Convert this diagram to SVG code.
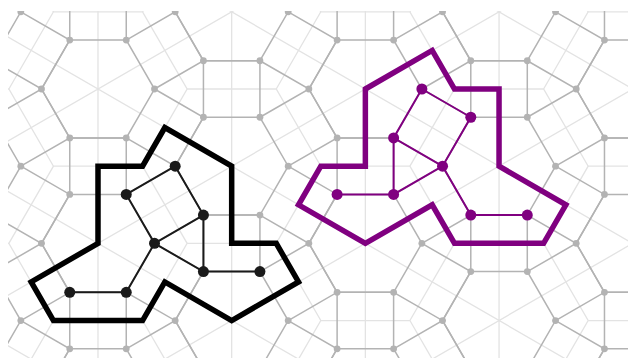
<svg xmlns="http://www.w3.org/2000/svg" width="628" height="358" viewBox="0 0 628 358">
<style>
.lt{fill:none;stroke:#e3e3e3;stroke-width:1.3}
.dk{fill:none;stroke:#b3b3b3;stroke-width:1.5}
.gd{fill:#b3b3b3}
.bb{fill:none;stroke:#000;stroke-width:5.5;stroke-linejoin:miter}
.be{fill:none;stroke:#1a1a1a;stroke-width:2}
.bn{fill:#1a1a1a}
.pb{fill:none;stroke:#800080;stroke-width:5.5;stroke-linejoin:miter}
.pe{fill:none;stroke:#800080;stroke-width:2}
.pn{fill:#800080}
</style>
<defs>
<clipPath id="clip"><rect x="8" y="11" width="640" height="360"/></clipPath>
<path id="hc" class="lt" d="M-44.56,-77.18H44.56L89.12,0L44.56,77.18"/>
<path id="cell" class="dk" d="M-28.25,-48.93H28.25L56.5,0L28.25,48.93H-28.25L-56.5,0Z M-28.25,-48.93V-105.43H28.25V-48.93 M28.25,-48.93L77.18,-77.18L105.43,-28.25L56.5,0 M56.5,0L105.43,28.25L77.18,77.18L28.25,48.93"/>
<g id="dots" class="gd">
<circle cx="-28.25" cy="-48.93" r="3.4"/><circle cx="28.25" cy="-48.93" r="3.4"/><circle cx="56.5" cy="0" r="3.4"/>
<circle cx="28.25" cy="48.93" r="3.4"/><circle cx="-28.25" cy="48.93" r="3.4"/><circle cx="-56.5" cy="0" r="3.4"/>
</g>
</defs>
<g id="tiling" clip-path="url(#clip)">
<g id="dual">
<path class="lt" d="M98,0V370M231.68,0V370M365.36,0V370M499.04,0V370
M0,-276.3L640,93.2M0,-121.94L640,247.56M0,32.42L640,401.92M0,186.78L640,556.28M0,341.14L640,710.64
M0,145.58L640,-223.92M0,299.94L640,-69.56M0,454.3L640,84.8M0,608.66L640,239.16"/>
<use href="#hc" x="-35.68" y="11.82"/><use href="#hc" x="-35.68" y="166.18"/><use href="#hc" x="-35.68" y="320.54"/>
<use href="#hc" x="98" y="-65.36"/><use href="#hc" x="98" y="89"/><use href="#hc" x="98" y="243.36"/><use href="#hc" x="98" y="397.72"/>
<use href="#hc" x="231.68" y="11.82"/><use href="#hc" x="231.68" y="166.18"/><use href="#hc" x="231.68" y="320.54"/>
<use href="#hc" x="365.36" y="-65.36"/><use href="#hc" x="365.36" y="89"/><use href="#hc" x="365.36" y="243.36"/><use href="#hc" x="365.36" y="397.72"/>
<use href="#hc" x="499.04" y="11.82"/><use href="#hc" x="499.04" y="166.18"/><use href="#hc" x="499.04" y="320.54"/>
<use href="#hc" x="632.72" y="-65.36"/><use href="#hc" x="632.72" y="89"/><use href="#hc" x="632.72" y="243.36"/><use href="#hc" x="632.72" y="397.72"/>
</g>
<g id="edges">
<use href="#cell" x="-35.68" y="11.82"/><use href="#cell" x="-35.68" y="166.18"/><use href="#cell" x="-35.68" y="320.54"/>
<use href="#cell" x="98" y="-65.36"/><use href="#cell" x="98" y="89"/><use href="#cell" x="98" y="243.36"/><use href="#cell" x="98" y="397.72"/>
<use href="#cell" x="231.68" y="11.82"/><use href="#cell" x="231.68" y="166.18"/><use href="#cell" x="231.68" y="320.54"/>
<use href="#cell" x="365.36" y="-65.36"/><use href="#cell" x="365.36" y="89"/><use href="#cell" x="365.36" y="243.36"/><use href="#cell" x="365.36" y="397.72"/>
<use href="#cell" x="499.04" y="11.82"/><use href="#cell" x="499.04" y="166.18"/><use href="#cell" x="499.04" y="320.54"/>
<use href="#cell" x="632.72" y="-65.36"/><use href="#cell" x="632.72" y="89"/><use href="#cell" x="632.72" y="243.36"/><use href="#cell" x="632.72" y="397.72"/>
</g>
<g id="vertices">
<use href="#dots" x="-35.68" y="11.82"/><use href="#dots" x="-35.68" y="166.18"/><use href="#dots" x="-35.68" y="320.54"/>
<use href="#dots" x="98" y="-65.36"/><use href="#dots" x="98" y="89"/><use href="#dots" x="98" y="243.36"/><use href="#dots" x="98" y="397.72"/>
<use href="#dots" x="231.68" y="11.82"/><use href="#dots" x="231.68" y="166.18"/><use href="#dots" x="231.68" y="320.54"/>
<use href="#dots" x="365.36" y="-65.36"/><use href="#dots" x="365.36" y="89"/><use href="#dots" x="365.36" y="243.36"/><use href="#dots" x="365.36" y="397.72"/>
<use href="#dots" x="499.04" y="11.82"/><use href="#dots" x="499.04" y="166.18"/><use href="#dots" x="499.04" y="320.54"/>
<use href="#dots" x="632.72" y="-65.36"/><use href="#dots" x="632.72" y="89"/><use href="#dots" x="632.72" y="243.36"/><use href="#dots" x="632.72" y="397.72"/>
</g>
</g>
<g id="outlines">
<path id="black-outline" class="bb" d="M98,166.18H142.56L164.84,127.59L231.68,166.18V243.36H276.24L298.52,281.95L231.68,320.54L164.84,281.95L142.56,320.54H53.44L31.16,281.95L98,243.36Z"/>
<path id="purple-outline" class="pb" d="M365.36,89L432.2,50.41L454.48,89H499.04V166.18L565.88,204.77L543.6,243.36H454.48L432.2,204.77L365.36,243.36L298.52,204.77L320.8,166.18H365.36Z"/>
</g>
<g id="connectors">
<path class="be" d="M175.18,166.18L126.25,194.43L154.5,243.36L203.43,215.11L175.18,166.18 M203.43,215.11V271.61L154.5,243.36L126.25,292.29H69.75 M203.43,271.61H259.93"/>
<path class="pe" d="M421.86,89L393.61,137.93L442.54,166.18L470.79,117.25L421.86,89 M393.61,137.93V194.43L442.54,166.18L470.79,215.11H527.29 M393.61,194.43H337.11"/>
</g>
<g id="b1"><circle class="bn" cx="175.18" cy="166.18" r="5.5"/></g>
<g id="b2"><circle class="bn" cx="126.25" cy="194.43" r="5.5"/></g>
<g id="b3"><circle class="bn" cx="203.43" cy="215.11" r="5.5"/></g>
<g id="b4"><circle class="bn" cx="154.5" cy="243.36" r="5.5"/></g>
<g id="b5"><circle class="bn" cx="203.43" cy="271.61" r="5.5"/></g>
<g id="b6"><circle class="bn" cx="259.93" cy="271.61" r="5.5"/></g>
<g id="b7"><circle class="bn" cx="69.75" cy="292.29" r="5.5"/></g>
<g id="b8"><circle class="bn" cx="126.25" cy="292.29" r="5.5"/></g>
<g id="p1"><circle class="pn" cx="421.86" cy="89" r="5.5"/></g>
<g id="p2"><circle class="pn" cx="470.79" cy="117.25" r="5.5"/></g>
<g id="p3"><circle class="pn" cx="393.61" cy="137.93" r="5.5"/></g>
<g id="p4"><circle class="pn" cx="442.54" cy="166.18" r="5.5"/></g>
<g id="p5"><circle class="pn" cx="337.11" cy="194.43" r="5.5"/></g>
<g id="p6"><circle class="pn" cx="393.61" cy="194.43" r="5.5"/></g>
<g id="p7"><circle class="pn" cx="470.79" cy="215.11" r="5.5"/></g>
<g id="p8"><circle class="pn" cx="527.29" cy="215.11" r="5.5"/></g>
</svg>
